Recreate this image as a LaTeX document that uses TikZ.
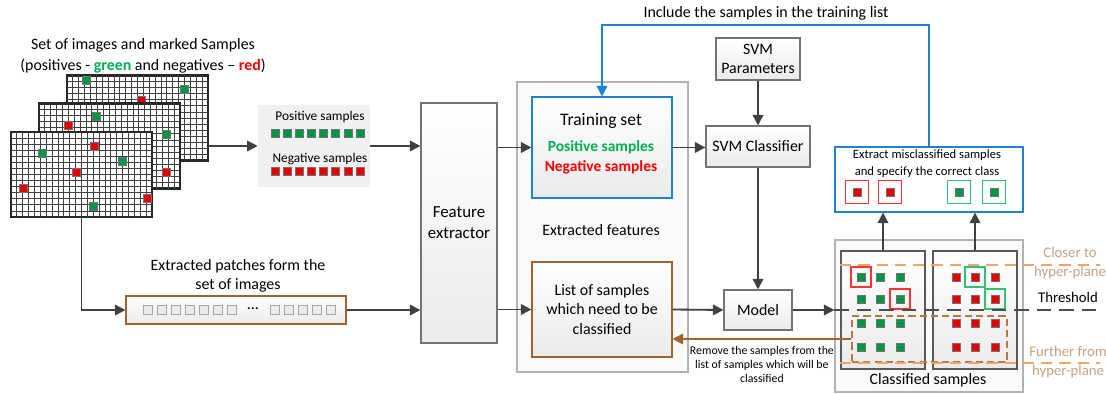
\documentclass[tikz,border=0pt]{standalone}
\usepackage{fontspec}
\setmainfont{Carlito}
\usepackage{tikz}
\newcommand{\px}{0.025cm}
\newcommand{\gridw}{141}
\newcommand{\gridh}{85}
\definecolor{myGreen}{RGB}{0,150,70}
\definecolor{myRed}{RGB}{230,0,0}
\definecolor{txtGreen}{RGB}{0,176,80}
\definecolor{txtRed}{RGB}{255,0,0}
\definecolor{myBlue}{RGB}{30,130,210}
\definecolor{myBrown}{RGB}{160,100,50}
\definecolor{myOrange}{RGB}{240,165,100}
\definecolor{myTan}{RGB}{200,160,130}
\usetikzlibrary{arrows.meta,calc,positioning}
\tikzset{
  font=\fontsize{11.3}{14}\selectfont,
  box/.style={draw=black!55,line width=0.8pt,top color=white,bottom color=black!8,shape=rectangle,align=center,inner sep=1mm},
  softbox/.style={fill=black!6,shape=rectangle},
  panel/.style={draw=black!30,fill=black!2,line width=0.8pt,shape=rectangle},
  imgframe/.style={draw=black!85,line width=1.6pt,fill=white,minimum width=\gridw*\px,minimum height=\gridh*\px,inner sep=0,outer sep=0},
  gridline/.style={draw=black!75,line width=0.55pt},
  gsq/.style={draw=black!55,fill=myGreen,minimum size=8*\px,inner sep=0},
  rsq/.style={draw=black!55,fill=myRed,minimum size=8*\px,inner sep=0},
  psq/.style={draw=black!35,fill=black!8,minimum size=9*\px,inner sep=0},
  redframe/.style={draw=txtRed!80,line width=0.9pt,minimum size=20*\px,inner sep=0},
  greenframe/.style={draw=txtGreen!80,line width=0.9pt,minimum size=20*\px,inner sep=0},
  line/.style={draw=black!75,line width=1.3pt,-{Triangle[length=7.5pt,width=7.5pt]}},
  blueline/.style={line,draw=myBlue,-{Triangle[length=7.5pt,width=7.5pt,fill=myBlue]}},
  brownline/.style={line,draw=myBrown,-{Triangle[length=7.5pt,width=7.5pt,fill=myBrown]}},
  thresh/.style={draw=black!70,line width=1.3pt,dash pattern=on 10pt off 6pt},
  hyper/.style={draw=myOrange,line width=1.5pt,dash pattern=on 8pt off 5pt},
  small/.style={font=\fontsize{8.4}{10}\selectfont,align=center},
}
\newcommand{\imggrid}[3]{%
  \node (#1) [imgframe] at (#2,#3) {};
  \foreach \i in {1,...,23} \draw[gridline] ($(#1.north west)+(\i*\gridw/24,0)$) -- ++(0,\gridh);
  \foreach \j in {1,...,13} \draw[gridline] ($(#1.north west)+(0,\j*\gridh/14)$) -- ++(\gridw,0);
}

\begin{document}
\begin{tikzpicture}[x=\px,y=-\px]
  \useasboundingbox (0,0) rectangle (1106,394);

  % input images with marked samples
  \node (title) [align=center,font=\fontsize{11.3}{15}\selectfont] at (143,56)
    {Set of images and marked Samples\\(positives - {\color{txtGreen}\textbf{green}} and negatives -- {\color{txtRed}\textbf{red}})};
  \imggrid{img1}{137.5}{118}
  \node (s1) [gsq] at (86,80) {};
  \node (s2) [gsq] at (184,89) {};
  \node (s3) [rsq] at (141,100) {};
  \imggrid{img2}{109.5}{146}
  \node (s4) [gsq] at (96,116) {};
  \node (s5) [rsq] at (68,125) {};
  \node (s6) [gsq] at (166,134) {};
  \node (s7) [rsq] at (166,172) {};
  \imggrid{img3}{81.5}{174.5}
  \node (s8) [gsq] at (42,153) {};
  \node (s9) [rsq] at (94,146) {};
  \node (s10) [gsq] at (122,161) {};
  \node (s11) [rsq] at (76,172) {};
  \node (s12) [rsq] at (23,188) {};
  \node (s13) [rsq] at (147,198) {};
  \node (s14) [gsq] at (93,206) {};

  % marked samples
  \node (samples) [softbox,minimum width=112*\px,minimum height=82*\px] at (314,146) {};
  \node (poslbl) [small,font=\fontsize{9.5}{11}\selectfont] at (320,117) {Positive samples};
  \node (neglbl) [small,font=\fontsize{9.5}{11}\selectfont] at (320,159) {Negative samples};
  \foreach \i in {0,...,7} {
    \node (p\i) [gsq] at ({275+\i*12.14},133) {};
    \node (n\i) [rsq] at ({275+\i*12.14},171) {};
  }

  % patches
  \node (patchlbl) [align=center] at (238,276) {Extracted patches form the\\set of images};
  \node (patches) [box,draw=myBrown,minimum width=220*\px,minimum height=28*\px] at (236,310) {};
  \foreach \x in {148,162,176,190,204,218,232,275,289,303,317,331}
    \node (q\x) [psq] at (\x,310) {};
  \node (dots) at (253,309) {...};

  \node (featex) [box,minimum width=76*\px,minimum height=240*\px,font=\fontsize{12}{15}\selectfont] at (459,223) {Feature\\extractor};

  % extracted features
  \node (featbox) [panel,minimum width=171*\px,minimum height=290*\px] at (602.5,227) {};
  \node (train) [box,draw=myBlue,minimum width=140*\px,minimum height=101*\px] at (602,147.5) {};
  \node (trainlbl) [font=\fontsize{12.5}{15}\selectfont] at (601,121) {Training set};
  \node (trainpos) [font=\fontsize{11}{14}\selectfont\bfseries,text=txtGreen] at (601,147) {Positive samples};
  \node (trainneg) [font=\fontsize{11}{14}\selectfont\bfseries,text=txtRed] at (601,167) {Negative samples};
  \node (featlbl) at (601,230) {Extracted features};
  \node (list) [box,draw=myBrown,minimum width=140*\px,minimum height=95*\px] at (602,309.5) {List of samples\\which need to be\\classified};

  % classifier
  \node (svmpar) [box,minimum width=84*\px,minimum height=42*\px] at (758,59) {SVM\\Parameters};
  \node (svmcls) [box,minimum width=104*\px,minimum height=41*\px] at (758,146.5) {SVM Classifier};
  \node (model) [box,minimum width=68*\px,minimum height=40*\px] at (758,310) {Model};

  % classified samples
  \node (clsbox) [panel,minimum width=188*\px,minimum height=152*\px] at (929,316) {};
  \node (clslbl) at (928,380) {Classified samples};
  \node (leftp) [box,draw=black!65,minimum width=84*\px,minimum height=118*\px] at (883,310) {};
  \node (rightp) [box,draw=black!65,minimum width=84*\px,minimum height=118*\px] at (975,310) {};
  \foreach \cx [count=\i] in {861,880,900} {
    \foreach \cy [count=\j] in {277,299,323,347} {
      \node (gl-\i-\j) [gsq] at (\cx,\cy) {};
      \node (rr-\i-\j) [rsq] at ({\cx+95},\cy) {};
    }
  }
  \node (mis1) [redframe] at (gl-1-1) {};
  \node (mis2) [redframe] at (gl-3-2) {};
  \node (mis3) [greenframe] at (rr-2-1) {};
  \node (mis4) [greenframe] at (rr-3-2) {};
  \node (farbox) [draw=myBrown!70!myOrange,line width=1pt,dash pattern=on 5pt off 3pt,minimum width=155*\px,minimum height=46*\px] at (929.5,339) {};

  \coordinate (closeL) at (840,265);
  \coordinate (closeR) at (1100,265);
  \coordinate (farL) at (840,363);
  \coordinate (farR) at (1100,363);
  \coordinate (thrend) at (1100,310);
  \draw[hyper] (closeL) -- (closeR);
  \draw[hyper] (farL) -- (farR);
  \draw[thresh] (model.east -| clsbox.west) -- (thrend);
  \node (closelbl) [align=center,text=myTan,font=\fontsize{10.5}{13}\selectfont] at (1070,263) {Closer to\\hyper-plane};
  \node (thrlbl) [font=\fontsize{10.5}{13}\selectfont] at (1068,297) {Threshold};
  \node (farlbl) [align=center,text=myTan,font=\fontsize{10.5}{13}\selectfont] at (1068,362) {Further from\\hyper-plane};

  % misclassified samples
  \node (extract) [draw=myBlue,line width=0.8pt,fill=white,minimum width=188*\px,minimum height=65*\px] at (929,179.5) {};
  \node (extractlbl) [align=center,font=\fontsize{9}{12}\selectfont] at (927,163.5) {Extract misclassified samples\\and specify the correct class};
  \node (e1) [rsq] at (857,192) {};
  \node (e2) [rsq] at (890,192) {};
  \node (e3) [gsq] at (959,192) {};
  \node (e4) [gsq] at (994,192) {};
  \foreach \e in {e1,e2} \node (f\e) [redframe,minimum size=23*\px] at (\e) {};
  \foreach \e in {e3,e4} \node (f\e) [greenframe,minimum size=23*\px] at (\e) {};

  % connectors
  \path [line] (img1.east |- samples.west) -- (samples.west);
  \path [line] (samples.east) -- (samples.east -| featex.west);
  \path [line] (img3.south) |- (patches.west);
  \path [line] (patches.east) -- (patches.east -| featex.west);
  \path [line] (featex.east |- train.west) -- (train.west);
  \path [line] (featex.east |- list.west) -- (list.west);
  \path [line] (train.east) -- (train.east -| svmcls.west);
  \path [line] (svmpar) -- (svmcls);
  \path [line] (svmcls) -- (model);
  \path [line] (list.east) -- (model.west);
  \path [line] (model.east) -- (model.east -| clsbox.west);
  \path [line] (leftp.north) -- (leftp.north |- extract.south);
  \path [line] (rightp.north) -- (rightp.north |- extract.south);
  \coordinate (topfb) at (766,25);
  \path [blueline] (extract.north) |- (topfb) -| (train.north);
  \node (fblbl) [above=0pt of topfb] {Include the samples in the training list};
  \path [brownline] (farbox.west) -- (farbox.west -| list.east)
    node [pos=0.5,below=1pt,small] {Remove the samples from the\\list of samples which will be\\classified};
\end{tikzpicture}
\end{document}
